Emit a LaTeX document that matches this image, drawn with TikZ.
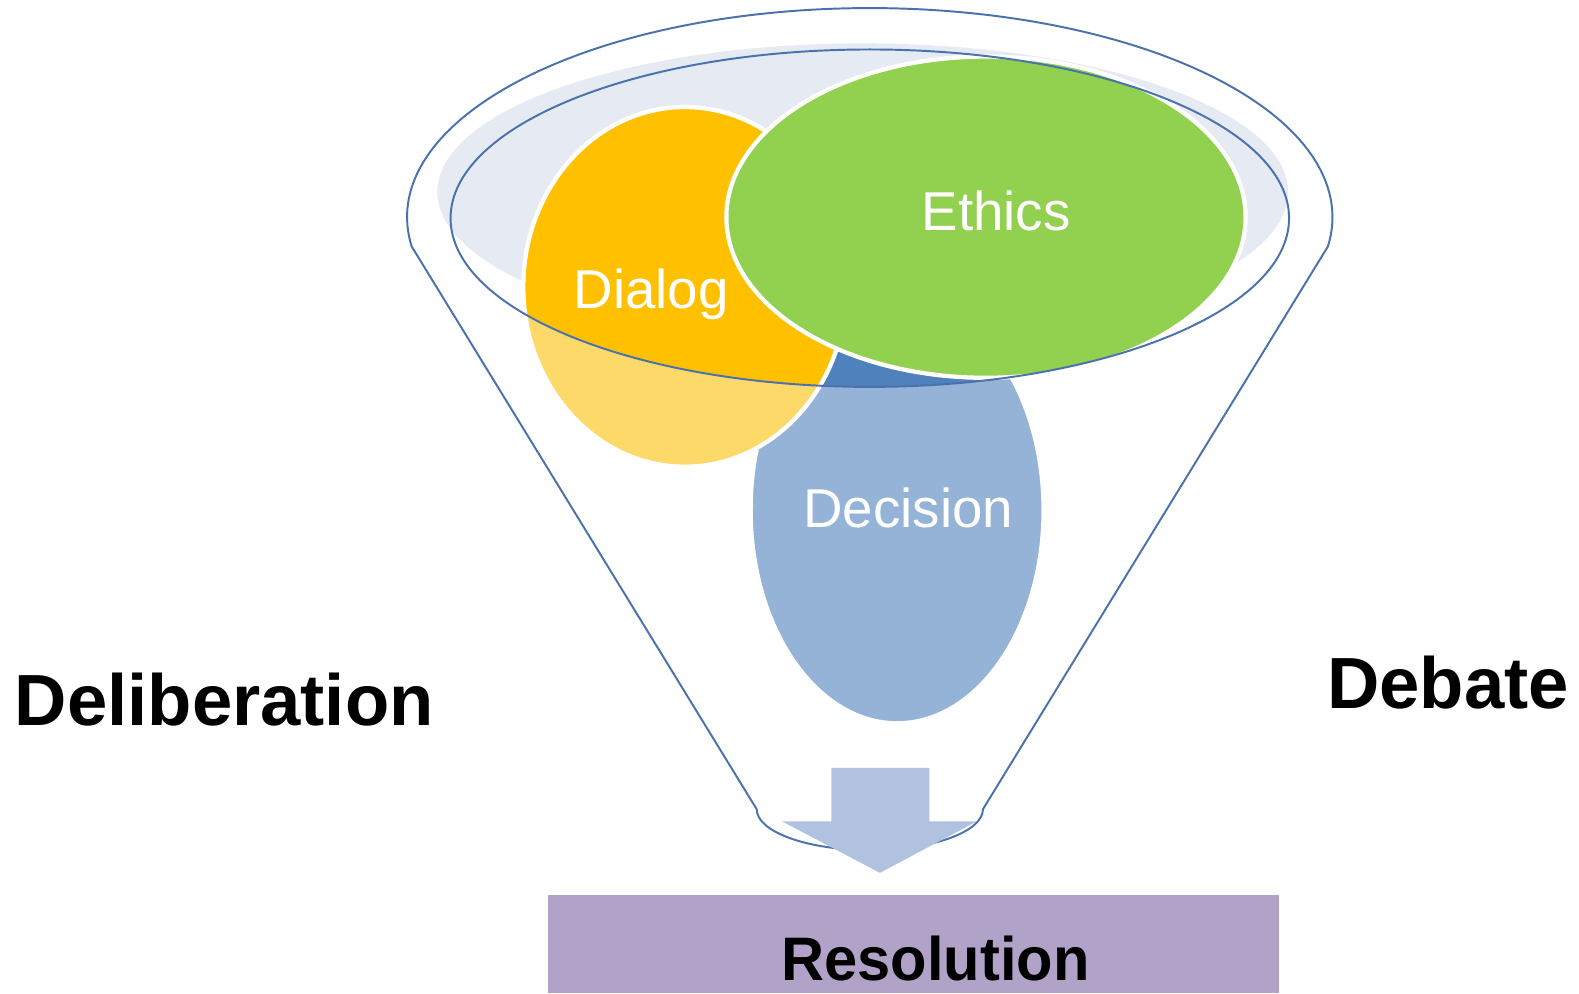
\documentclass[tikz,border=0pt]{standalone}
\usepackage{fontspec}
\setmainfont{Liberation Sans}
\definecolor{funnelline}{HTML}{4A72AC}
\definecolor{lightfill}{HTML}{E5EAF3}
\definecolor{dialogdark}{HTML}{FFC000}
\definecolor{dialoglight}{HTML}{FDD96A}
\definecolor{decisiondark}{HTML}{4F81BD}
\definecolor{decisionlight}{HTML}{95B3D7}
\definecolor{ethicsgreen}{HTML}{92D050}
\definecolor{arrowblue}{HTML}{B0C2DF}
\definecolor{resbox}{HTML}{B1A2C8}
\tikzset{
  blob/.style={draw=white, line width=1.2pt},
  rim/.style={draw=funnelline, line width=0.55pt},
  inlabel/.style={text=white, font=\fontsize{15.4}{18}\selectfont, inner sep=0pt, anchor=base},
  sidelabel/.style={text=black, font=\fontsize{20.4}{24}\selectfont\bfseries, inner sep=0pt, anchor=base west},
}
\begin{document}
\begin{tikzpicture}[x=0.01cm,y=0.01cm]
\useasboundingbox (0,0) rectangle (1563,983);
% light fill of the funnel mouth
\fill[lightfill] (854,793) ellipse [x radius=421, y radius=147];
% faded parts (below the mouth)
\path[blob, fill=decisionlight] (888,478) ellipse [x radius=145, y radius=211];
\path[blob, fill=dialoglight] (678,699) ellipse [x radius=160, y radius=178];
% full colour parts inside the mouth
\begin{scope}
  \clip (861,767) ellipse [x radius=415, y radius=167];
  \path[blob, fill=decisiondark] (888,478) ellipse [x radius=145, y radius=211];
  \path[blob, fill=dialogdark] (678,699) ellipse [x radius=160, y radius=178];
\end{scope}
\path[blob, fill=ethicsgreen] (976,768) ellipse [x radius=257, y radius=159];
% funnel outline
\coordinate (fl) at (407.5,739);
\coordinate (br) at (973,182);
\draw[rim] (fl) arc [start angle=188.05, end angle=-8.05, x radius=458, y radius=207]
  -- (br) arc [start angle=0, end angle=-180, x radius=112, y radius=40.5] -- cycle;
\draw[rim] (861,767) ellipse [x radius=415, y radius=167];
% arrow
\fill[arrowblue] (823,223) -- (920,223) -- (920,170) -- (967,170) -- (871,119)
  -- (774,170) -- (823,170) -- cycle;
% resolution box
\fill[resbox] (542.5,0) rectangle (1266,97);
% labels
\node[inlabel] (dialog) at (644.5,678) {Dialog};
\node[inlabel] (ethics) at (986,755) {Ethics};
\node[inlabel] (decision) at (899,461) {Decision};
\node[sidelabel] (delib) at (14,265) {Deliberation};
\node[sidelabel] (debate) at (1313,282) {Debate};
\node[text=black, font=\fontsize{17.3}{20}\selectfont\bfseries, inner sep=0pt, anchor=base, xscale=0.97] (res) at (926,12) {Resolution};
\end{tikzpicture}
\end{document}
